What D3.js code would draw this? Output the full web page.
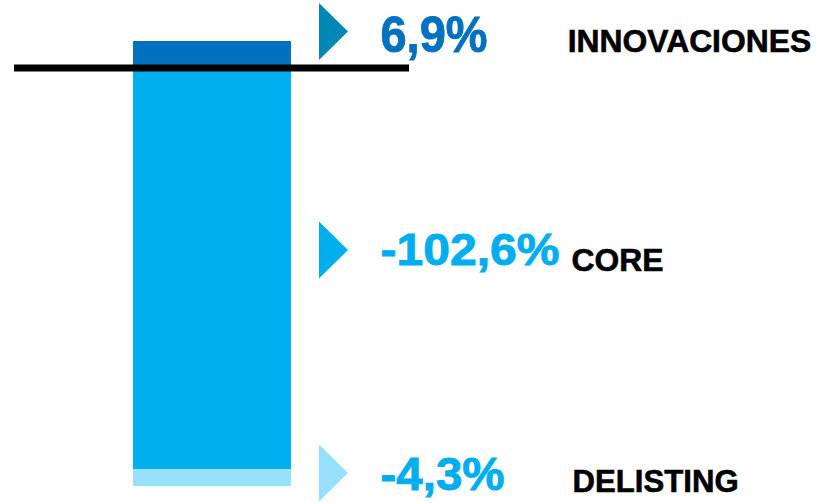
<!DOCTYPE html>
<html>
<head>
<meta charset="utf-8">
<script src="https://cdn.jsdelivr.net/npm/d3@7/dist/d3.min.js"></script>
<style>
  html, body { margin: 0; padding: 0; background: #ffffff; }
  svg { display: block; }
</style>
</head>
<body>
<svg id="chart" width="826" height="503"></svg>
<script>
// Contribution of each component (percentage points)
const categories = ["INNOVACIONES", "CORE", "DELISTING"];
const values = [6.9, -102.6, -4.3];
const valueLabels = ["6,9%", "-102,6%", "-4,3%"];
const barColors = ["#0070C0", "#00AEEF", "#97E1FF"];
const markerColors = ["#0087B5", "#00AEEF", "#97E1FF"];
const valueColors = ["#0070C0", "#00AEEF", "#00AEEF"];

// Stack: positives go up from zero, negatives go down from zero, in order
let posAcc = 0, negAcc = 0;
const segments = categories.map((c, i) => {
  const v = values[i];
  let y0, y1;
  if (v >= 0) { y0 = posAcc; y1 = posAcc + v; posAcc = y1; }
  else { y0 = negAcc; y1 = negAcc + v; negAcc = y1; }
  return { cat: c, value: v, y0, y1, i };
});

const svg = d3.select("#chart");
const FONT = "'Liberation Sans', Arial, Helvetica, sans-serif";

const y = d3.scaleLinear()
  .domain([d3.max(segments, d => Math.max(d.y0, d.y1)), d3.min(segments, d => Math.min(d.y0, d.y1))])
  .range([41, 486]);

const x = d3.scaleBand().domain(["total"]).range([133, 291]).padding(0);

// Stacked bar
svg.append("g").selectAll("rect")
  .data(segments)
  .join("rect")
  .attr("x", x("total"))
  .attr("width", x.bandwidth())
  .attr("y", d => y(Math.max(d.y0, d.y1)))
  .attr("height", d => Math.abs(y(d.y0) - y(d.y1)))
  .attr("fill", d => barColors[d.i]);

// Zero line
svg.append("line")
  .attr("x1", 14).attr("x2", 409)
  .attr("y1", y(0)).attr("y2", y(0))
  .attr("stroke", "#000")
  .attr("stroke-width", 7);

// Annotation rows: marker, value, category name
const rowCenters = [31.5, 250, 473];
const valueFont = [50, 44.5, 46];
const valueLen = [107, 179, 124];
const nameX = [567.7, 571.6, 572.6];
const nameLen = [243.5, 92, 166];
const valueBase = [52, 264.5, 490];
const nameBase = [51.5, 271, 492];

const rows = svg.append("g").selectAll("g")
  .data(segments)
  .join("g");

rows.append("path")
  .attr("d", d => {
    const c = rowCenters[d.i];
    return `M319,${c - 28.5}L348,${c}L319,${c + 28.5}Z`;
  })
  .attr("fill", d => markerColors[d.i]);

rows.append("text")
  .attr("x", 380.5)
  .attr("y", d => valueBase[d.i])
  .attr("font-family", FONT)
  .attr("font-weight", "bold")
  .attr("font-size", d => valueFont[d.i])
  .attr("textLength", d => valueLen[d.i])
  .attr("lengthAdjust", "spacingAndGlyphs")
  .attr("fill", d => valueColors[d.i])
  .attr("stroke", d => valueColors[d.i])
  .attr("stroke-width", 0.9)
  .text(d => valueLabels[d.i]);

rows.append("text")
  .attr("x", d => nameX[d.i])
  .attr("y", d => nameBase[d.i])
  .attr("font-family", FONT)
  .attr("font-weight", "bold")
  .attr("font-size", 31.5)
  .attr("textLength", d => nameLen[d.i])
  .attr("lengthAdjust", "spacingAndGlyphs")
  .attr("fill", "#000")
  .attr("stroke", "#000")
  .attr("stroke-width", 0.6)
  .text(d => d.cat);
</script>
</body>
</html>
